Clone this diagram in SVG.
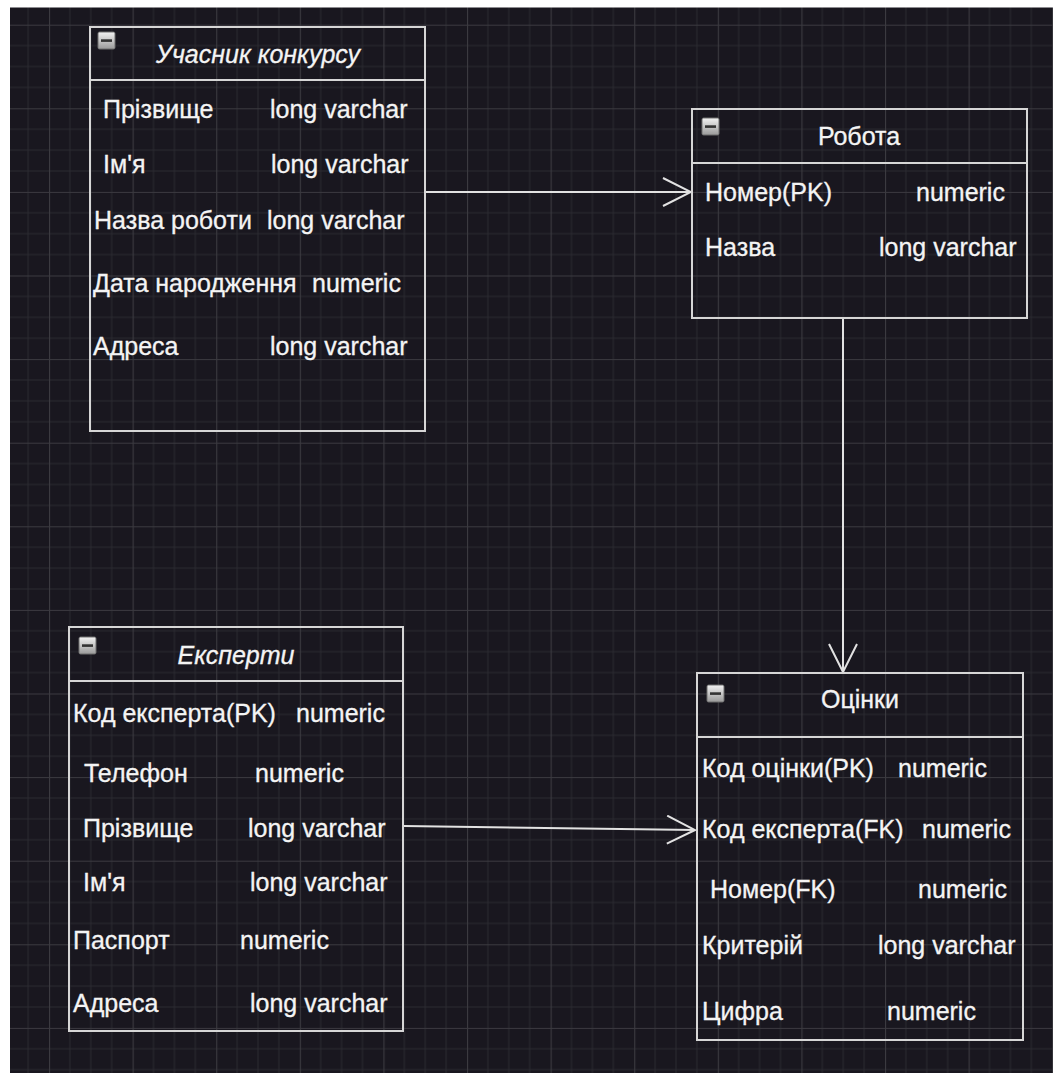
<svg xmlns="http://www.w3.org/2000/svg" width="1053" height="1073" viewBox="0 0 1053 1073">
<defs>
  <pattern id="grid" patternUnits="userSpaceOnUse" x="49" y="24.7" width="83.6" height="83.6">
    <rect width="83.6" height="83.6" fill="#19171f"/>
    <path d="M20.9,0V83.6M41.8,0V83.6M62.7,0V83.6M0,20.9H83.6M0,41.8H83.6M0,62.7H83.6" stroke="#2b2a31" stroke-width="1" fill="none"/>
    <path d="M0.5,0V83.6M0,0.5H83.6" stroke="#3b3a40" stroke-width="1.2" fill="none"/>
  </pattern>
  <linearGradient id="icg" x1="0" y1="0" x2="0" y2="1">
    <stop offset="0" stop-color="#f2f2f2"/>
    <stop offset="1" stop-color="#9a9a9a"/>
  </linearGradient>
  <marker id="arr" viewBox="0 0 30 30" markerWidth="30" markerHeight="30" markerUnits="userSpaceOnUse" refX="29" refY="15" orient="auto">
    <path d="M1,1 L29,15 L1,29" fill="none" stroke="#e2e2e2" stroke-width="2"/>
  </marker>
  <g id="icon">
    <rect x="0" y="0" width="17" height="17" rx="1.5" fill="url(#icg)" stroke="#6e6e6e" stroke-width="1"/>
    <rect x="3" y="7.3" width="11" height="2.6" fill="#333"/>
  </g>
</defs>
<style>
  .box { fill: none; stroke: #d6d6d6; stroke-width: 2; }
  .sep { stroke: #d6d6d6; stroke-width: 2; }
  .t { font-family: "Liberation Sans", Arial, sans-serif; font-size: 25px; fill: #f4f4f4; stroke: #f4f4f4; stroke-width: 0.3px; }
  .ti { font-style: italic; }
  .c { text-anchor: middle; }
  .edge { fill: none; stroke: #e2e2e2; stroke-width: 2; marker-end: url(#arr); }
</style>
<rect x="0" y="0" width="1053" height="1073" fill="#ffffff"/>
<rect x="10" y="7.5" width="1043" height="1065.5" fill="url(#grid)"/>

<g id="connectors">
  <path class="edge" d="M425,192 L691,192"/>
  <path class="edge" d="M843,318 L843,672"/>
  <path class="edge" d="M404,826 L695,830"/>
</g>

<g id="uchasnyk">
  <rect class="box" x="90" y="27" width="335" height="404"/>
  <line class="sep" x1="90" y1="80" x2="425" y2="80"/>
  <use href="#icon" x="98" y="32"/>
  <text class="t ti c" x="258" y="63">Учасник конкурсу</text>
  <text class="t" x="103" y="118">Прізвище</text>
  <text class="t" x="270" y="118">long varchar</text>
  <text class="t" x="103" y="173">Ім'я</text>
  <text class="t" x="271" y="173">long varchar</text>
  <text class="t" x="94" y="229">Назва роботи</text>
  <text class="t" x="267" y="229">long varchar</text>
  <text class="t" x="93" y="292">Дата народження</text>
  <text class="t" x="312" y="292">numeric</text>
  <text class="t" x="93" y="355">Адреса</text>
  <text class="t" x="270" y="355">long varchar</text>
</g>

<g id="robota">
  <rect class="box" x="692" y="109" width="335" height="209"/>
  <line class="sep" x1="692" y1="163" x2="1027" y2="163"/>
  <use href="#icon" x="702" y="118"/>
  <text class="t c" x="859" y="145">Робота</text>
  <text class="t" x="705" y="201">Номер(PK)</text>
  <text class="t" x="916" y="201">numeric</text>
  <text class="t" x="705" y="256">Назва</text>
  <text class="t" x="879" y="256">long varchar</text>
</g>

<g id="eksperty">
  <rect class="box" x="69" y="627" width="334" height="404"/>
  <line class="sep" x1="69" y1="681" x2="403" y2="681"/>
  <use href="#icon" x="79" y="637"/>
  <text class="t ti c" x="236" y="664">Експерти</text>
  <text class="t" x="73" y="722">Код експерта(PK)</text>
  <text class="t" x="296" y="722">numeric</text>
  <text class="t" x="84" y="782">Телефон</text>
  <text class="t" x="255" y="782">numeric</text>
  <text class="t" x="83" y="837">Прізвище</text>
  <text class="t" x="248" y="837">long varchar</text>
  <text class="t" x="83" y="891">Ім'я</text>
  <text class="t" x="250" y="891">long varchar</text>
  <text class="t" x="73" y="949">Паспорт</text>
  <text class="t" x="240" y="949">numeric</text>
  <text class="t" x="73" y="1012">Адреса</text>
  <text class="t" x="250" y="1012">long varchar</text>
</g>

<g id="otsinky">
  <rect class="box" x="697" y="673" width="326" height="367"/>
  <line class="sep" x1="697" y1="737" x2="1023" y2="737"/>
  <use href="#icon" x="707" y="685"/>
  <text class="t c" x="860" y="708">Оцінки</text>
  <text class="t" x="702" y="777">Код оцінки(PK)</text>
  <text class="t" x="898" y="777">numeric</text>
  <text class="t" x="702" y="838">Код експерта(FK)</text>
  <text class="t" x="922" y="838">numeric</text>
  <text class="t" x="710" y="898">Номер(FK)</text>
  <text class="t" x="918" y="898">numeric</text>
  <text class="t" x="702" y="954">Критерій</text>
  <text class="t" x="878" y="954">long varchar</text>
  <text class="t" x="702" y="1020">Цифра</text>
  <text class="t" x="887" y="1020">numeric</text>
</g>
</svg>
